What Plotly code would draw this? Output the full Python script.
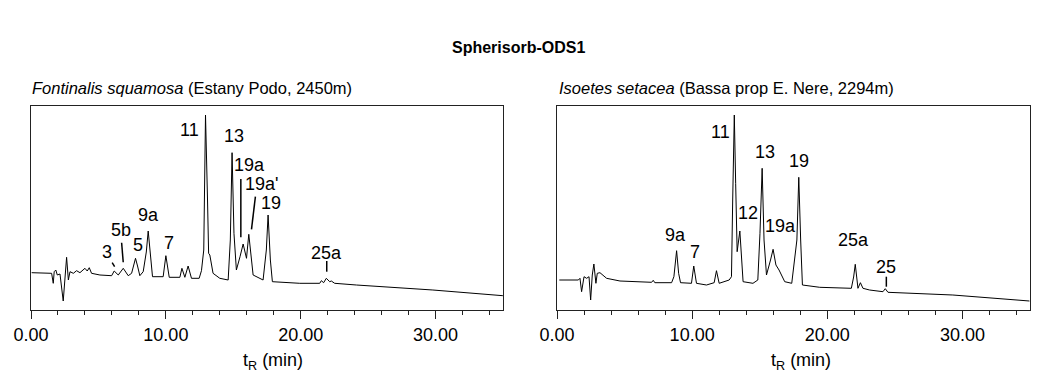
import plotly.graph_objects as go

W, H = 1037, 374

# ---------------- data: left chromatogram (Fontinalis squamosa) ----------------
left_t = [0.05, 1.53, 1.65, 1.72, 1.84, 1.95, 2.15, 2.39, 2.64, 2.77, 2.89, 3.14, 3.38, 3.63,
          4.0, 4.17, 4.32, 4.49, 5.11, 5.98, 6.17, 6.47, 6.84, 7.21, 7.46, 7.62, 7.75, 7.9, 8.07, 8.32,
          8.55, 8.69, 8.83, 9.01, 9.80, 10.0, 10.25, 11.04, 11.19, 11.41, 11.65, 11.9, 12.47, 12.64,
          12.81, 12.94, 13.09, 13.17, 13.26, 13.5, 14.0, 14.62, 14.78, 14.91, 15.05, 15.23,
          15.5, 15.73, 15.98, 16.15, 16.47, 17.21, 17.45, 17.58, 17.75, 17.9, 19.93, 21.41,
          21.53, 21.7, 21.9, 22.15, 22.27, 22.52, 24.13, 29.8, 34.99]
left_v = [37.3, 36.7, 26.7, 38.3, 40.0, 35.0, 36.0, 9.0, 52.7, 30.0, 38.3, 36.7, 39.3, 37.3,
          41.7, 39.0, 42.3, 36.7, 35.0, 34.3, 39.0, 35.0, 41.7, 34.3, 36.7, 45.0, 51.7, 44.0, 34.3, 38.3,
          58.0, 79.0, 55.0, 33.3, 33.3, 54.3, 32.7, 32.7, 41.7, 32.7, 44.0, 31.7, 31.7, 39.3,
          60.0, 195.0, 110.0, 56.7, 55.0, 36.7, 31.7, 30.0, 70.0, 157.3, 76.7, 40.0,
          53.3, 66.0, 51.7, 75.7, 35.0, 30.0, 60.0, 95.0, 50.0, 28.3, 26.7, 26.7,
          29.3, 27.3, 31.7, 28.3, 29.0, 26.7, 25.0, 20.0, 14.3]

# ---------------- data: right chromatogram (Isoetes setacea) ----------------
right_t = [0.17, 1.58, 1.70, 1.82, 2.0, 2.19, 2.37, 2.49, 2.61, 2.73, 2.88, 2.98, 3.18, 3.67,
           4.66, 7.0, 7.12, 7.24, 8.48, 8.65, 8.85, 9.0, 9.14, 9.95, 10.12, 10.32, 11.06,
           11.63, 11.8, 12.0, 12.74, 12.91, 13.0, 13.12, 13.22, 13.33, 13.53, 13.77, 14.5,
           14.86, 15.02, 15.18, 15.32, 15.5, 15.8, 15.99, 16.2, 16.43, 16.85, 17.37, 17.75, 17.89,
           18.03, 18.16, 19.44, 21.78, 21.95, 22.07, 22.2, 22.27, 22.45, 22.64, 23.13, 24.12, 24.29,
           24.49, 29.29, 34.96]
right_v = [30.0, 30.0, 31.7, 18.3, 33.3, 31.7, 33.3, 10.0, 35.0, 46.0, 26.7, 36.7, 37.3, 31.7,
           29.0, 27.7, 29.7, 27.3, 27.3, 33.3, 59.3, 36.7, 27.3, 26.7, 44.0, 26.7, 25.0,
           27.3, 39.3, 26.7, 30.0, 33.3, 110.0, 195.0, 126.7, 58.3, 79.0, 28.3, 26.7,
           30.0, 76.7, 141.7, 70.0, 35.0, 50.0, 60.7, 45.0, 40.0, 28.3, 26.7, 70.0, 132.7,
           70.0, 25.0, 22.7, 21.7, 33.0, 45.7, 30.0, 21.7, 27.3, 21.7, 20.0, 18.3, 21.3,
           17.7, 15.0, 9.0]

# ---------------- peak labels (text, t, signal) ----------------
left_labels = [("3", 5.65, 58.3), ("5b", 6.64, 80), ("5", 7.9, 65), ("9a", 8.72, 95),
               ("7", 10.26, 67), ("11", 11.78, 180), ("13", 15.06, 174.5), ("19a", 16.23, 145),
               ("19a'", 17.11, 126), ("19", 17.8, 107.5), ("25a", 21.93, 57)]
right_labels = [("9a", 8.77, 75), ("7", 10.22, 58.3), ("11", 12.08, 178.3), ("12", 14.14, 96.7),
                ("13", 15.37, 158.3), ("19a", 16.53, 84), ("19", 17.91, 149),
                ("25a", 21.97, 70), ("25", 24.34, 42.7)]
# label leader lines: (t0, v0, t1, v1)
left_leaders = [(6.02, 47.3, 6.2, 43.3), (6.72, 67.3, 6.84, 47.7), (15.56, 131, 15.56, 72.7),
                (16.64, 113.3, 16.35, 80.7), (21.93, 49, 21.93, 38.3)]
right_leaders = [(24.37, 33.3, 24.37, 23.3)]

title_text = "<b>Spherisorb-ODS1</b>"
sub_left = "<i>Fontinalis squamosa</i> (Estany Podo, 2450m)"
sub_right = "<i>Isoetes setacea</i> (Bassa prop E. Nere, 2294m)"
xlabel = "t<sub>R</sub> (min)"

FONT = "Liberation Sans, Arial, sans-serif"

fig = go.Figure()
fig.add_trace(go.Scatter(x=left_t, y=left_v, mode="lines", line=dict(color="black", width=1),
                         xaxis="x", yaxis="y", showlegend=False, hoverinfo="skip"))
fig.add_trace(go.Scatter(x=right_t, y=right_v, mode="lines", line=dict(color="black", width=1),
                         xaxis="x2", yaxis="y2", showlegend=False, hoverinfo="skip"))

def px_x(p):
    return p / W

def px_y(p):
    return 1 - p / H

xcommon = dict(range=[0, 35], showline=True, mirror=True, linecolor="#222", linewidth=1,
               ticks="outside", ticklen=8, tickwidth=1, tickcolor="#222", dtick=10, tick0=0,
               tickformat=".2f", showgrid=False, zeroline=False, automargin=False,
               tickfont=dict(family=FONT, size=18, color="black"),
               minor=dict(ticks="outside", ticklen=4, tickwidth=1, tickcolor="#222", dtick=2,
                          showgrid=False))
ycommon = dict(range=[0, 204], showline=True, mirror=True, linecolor="#222", linewidth=1,
               showticklabels=False, ticks="", showgrid=False, zeroline=False, automargin=False)

ydom = [px_y(310), px_y(106)]
fig.update_layout(
    width=W, height=H, margin=dict(l=0, r=0, t=0, b=0),
    paper_bgcolor="white", plot_bgcolor="white",
    xaxis=dict(domain=[px_x(31), px_x(503)], anchor="y", **xcommon),
    yaxis=dict(domain=ydom, anchor="x", **ycommon),
    xaxis2=dict(domain=[px_x(557), px_x(1030)], anchor="y2", **xcommon),
    yaxis2=dict(domain=ydom, anchor="x2", **ycommon),
)

ann = []
ann.append(dict(text=title_text, x=px_x(518), y=px_y(47), xref="paper", yref="paper",
                xanchor="center", yanchor="middle", showarrow=False,
                font=dict(family=FONT, size=16, color="black")))
ann.append(dict(text=sub_left, x=px_x(30), y=px_y(88), xref="paper", yref="paper",
                xanchor="left", yanchor="middle", showarrow=False,
                font=dict(family=FONT, size=16.5, color="black")))
ann.append(dict(text=sub_right, x=px_x(557), y=px_y(88), xref="paper", yref="paper",
                xanchor="left", yanchor="middle", showarrow=False,
                font=dict(family=FONT, size=16.5, color="black")))
for cx in (273, 801):
    ann.append(dict(text=xlabel, x=px_x(cx), y=px_y(361), xref="paper", yref="paper",
                    xanchor="center", yanchor="middle", showarrow=False,
                    font=dict(family=FONT, size=18, color="black")))
for labels, xr, yr in ((left_labels, "x", "y"), (right_labels, "x2", "y2")):
    for txt, t, v in labels:
        ann.append(dict(text=txt, x=t, y=v, xref=xr, yref=yr, xanchor="center",
                        yanchor="middle", showarrow=False,
                        font=dict(family=FONT, size=18, color="black")))
fig.update_layout(annotations=ann)

shapes = []
for leaders, xr, yr in ((left_leaders, "x", "y"), (right_leaders, "x2", "y2")):
    for t0, v0, t1, v1 in leaders:
        shapes.append(dict(type="line", x0=t0, y0=v0, x1=t1, y1=v1, xref=xr, yref=yr,
                           line=dict(color="black", width=1.5)))
fig.update_layout(shapes=shapes)

fig.write_html("out.html")
